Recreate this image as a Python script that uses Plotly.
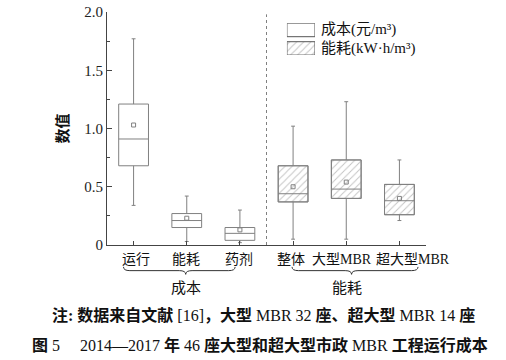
import plotly.graph_objects as go

# ---- data ----
categories = ["运行", "能耗", "药剂", "整体", "大型MBR", "超大型MBR"]
groups = ["成本", "能耗"]
legend_names = ["成本(元/m³)", "能耗(kW·h/m³)"]

cost_pos = [1, 2, 3]
cost_lower = [0.34, 0.03, 0.02]
cost_q1 = [0.68, 0.15, 0.04]
cost_median = [0.91, 0.21, 0.10]
cost_q3 = [1.21, 0.27, 0.15]
cost_upper = [1.77, 0.42, 0.30]
cost_mean = [1.03, 0.23, 0.13]

energy_pos = [4, 5, 6]
energy_lower = [0.05, 0.05, 0.21]
energy_q1 = [0.37, 0.40, 0.26]
energy_median = [0.44, 0.48, 0.38]
energy_q3 = [0.68, 0.73, 0.52]
energy_upper = [1.02, 1.23, 0.73]
energy_mean = [0.50, 0.54, 0.40]

yticks = [0, 0.5, 1.0, 1.5, 2.0]
yticktext = ["0", "0.5", "1.0", "1.5", "2.0"]

# ---- styles ----
GRAY = "#808080"
AX = "#444444"
SERIF = "Liberation Serif, Noto Sans CJK SC"
CJK = "Noto Sans CJK SC, Liberation Serif"
BW = 0.56
HATCH = dict(shape="/", fgcolor="#8a8a8a", bgcolor="white", size=5, solidity=0.2)
LABEL_SHIFT = [2, -1, -1, -2, -4, 14]

fig = go.Figure()

# hatched fill for energy boxes
fig.add_trace(go.Bar(
    x=energy_pos, base=energy_q1,
    y=[q3 - q1 for q1, q3 in zip(energy_q1, energy_q3)],
    width=BW, name=legend_names[1],
    marker=dict(color="white", line=dict(color=GRAY, width=1), pattern=HATCH),
    showlegend=False, hoverinfo="skip",
))

fig.add_trace(go.Box(
    x=cost_pos, q1=cost_q1, median=cost_median, q3=cost_q3,
    lowerfence=cost_lower, upperfence=cost_upper,
    width=BW, whiskerwidth=0.13, fillcolor="white",
    line=dict(color=GRAY, width=1), name=legend_names[0],
    showlegend=False, boxpoints=False,
))
fig.add_trace(go.Box(
    x=energy_pos, q1=energy_q1, median=energy_median, q3=energy_q3,
    lowerfence=energy_lower, upperfence=energy_upper,
    width=BW, whiskerwidth=0.13, fillcolor="rgba(0,0,0,0)",
    line=dict(color=GRAY, width=1), name=legend_names[1],
    showlegend=False, boxpoints=False,
))

fig.add_trace(go.Scatter(
    x=cost_pos + energy_pos, y=cost_mean + energy_mean, mode="markers",
    marker=dict(symbol="square-open", size=4, color=GRAY, line=dict(width=1)),
    showlegend=False, hoverinfo="skip",
))

# legend swatches (wide rectangles, as in the reference) on a small overlay axis
fig.add_trace(go.Bar(
    x=[1, 1], y=[1, 0], base=0, orientation="h", width=0.728,
    xaxis="x2", yaxis="y2", showlegend=False, hoverinfo="skip",
    marker=dict(color="white", line=dict(color="#555", width=1),
                pattern=dict(shape=["", "/"], fgcolor="#8a8a8a", bgcolor="white",
                             size=5, solidity=0.2)),
))
for yy, name in zip([0.923, 0.845], legend_names):
    fig.add_annotation(x=0.665, y=yy, xref="paper", yref="paper", text=name,
                       xanchor="left", yanchor="middle", showarrow=False,
                       font=dict(family=SERIF, size=15, color="#111"))

# divider
fig.add_shape(type="line", x0=3.5, x1=3.5, y0=0, y1=1.98, xref="x", yref="y",
              line=dict(color=GRAY, width=1, dash="dot"))

# category labels
for i, c in enumerate(categories):
    fig.add_annotation(x=i + 1, y=-0.064, xref="x", yref="paper", text=c,
                       showarrow=False, xshift=LABEL_SHIFT[i], yanchor="middle",
                       font=dict(family=SERIF, size=14, color="#111"))

# braces and group labels
def brace(x0, x1, xm):
    yt, ym, yb = -0.094, -0.110, -0.126
    d = 0.12
    return (f"M{x0},{yt} Q{x0},{ym} {x0 + d},{ym} L{xm - d},{ym} Q{xm},{ym} {xm},{yb} "
            f"Q{xm},{ym} {xm + d},{ym} L{x1 - d},{ym} Q{x1},{ym} {x1},{yt}")

fig.add_shape(type="path", path=brace(0.81, 2.91, 1.98), xref="x", yref="paper",
              line=dict(color="#333", width=1))
fig.add_shape(type="path", path=brace(3.98, 6.35, 5.1), xref="x", yref="paper",
              line=dict(color="#333", width=1))
for gx, g in zip([1.98, 5.02], groups):
    fig.add_annotation(x=gx, y=-0.179, xref="x", yref="paper", text=g, showarrow=False,
                       yanchor="middle", font=dict(family=CJK, size=15, color="#111"))

# captions
fig.add_annotation(
    x=-0.179, y=-0.300, xref="paper", yref="paper", xanchor="left", yanchor="middle",
    showarrow=False,
    text="<b>注: 数据来自文献</b> [16]<b>，大型</b> MBR 32 <b>座、超大型</b> MBR 14 <b>座</b>",
    font=dict(family=SERIF, size=16, color="#111"))
fig.add_annotation(
    x=-0.241, y=-0.429, xref="paper", yref="paper", xanchor="left", yanchor="middle",
    showarrow=False,
    text="<b>图</b> 5\u2003 2014—2017 <b>年</b> 46 <b>座大型和超大型市政</b> MBR <b>工程运行成本</b>",
    font=dict(family=SERIF, size=16, color="#111"))

fig.update_layout(
    width=506, height=360,
    margin=dict(l=107, r=80, t=12, b=115, autoexpand=False),
    paper_bgcolor="white", plot_bgcolor="white",
    showlegend=False,
    xaxis=dict(range=[0.5, 6.5], tickvals=[1, 2, 3, 4, 5, 6], showticklabels=False,
               ticks="inside", ticklen=4, tickcolor=AX, showline=True, linecolor=AX,
               linewidth=1, showgrid=False, zeroline=False),
    yaxis=dict(range=[0, 2.0], tickvals=yticks, ticktext=yticktext, ticks="inside",
               ticklen=5, tickcolor=AX, showline=True, linecolor=AX, linewidth=1,
               showgrid=False, zeroline=False,
               minor=dict(tickvals=[0.25, 0.75, 1.25, 1.75], ticks="inside", ticklen=3,
                          tickcolor=AX),
               tickfont=dict(family=SERIF, size=15, color="#222"),
               title=dict(text="<b>数值</b>", font=dict(family=CJK, size=15, color="#111"),
                          standoff=12)),
    xaxis2=dict(domain=[0.564, 0.652], range=[0, 1], visible=False, anchor="y2"),
    yaxis2=dict(domain=[0.815, 0.9515], range=[-0.364, 1.364], visible=False, anchor="x2"),
    barmode="overlay", boxmode="overlay",
)

fig.write_html("out.html", config={"displayModeBar": False},
               post_script="document.body.style.margin='0';")
